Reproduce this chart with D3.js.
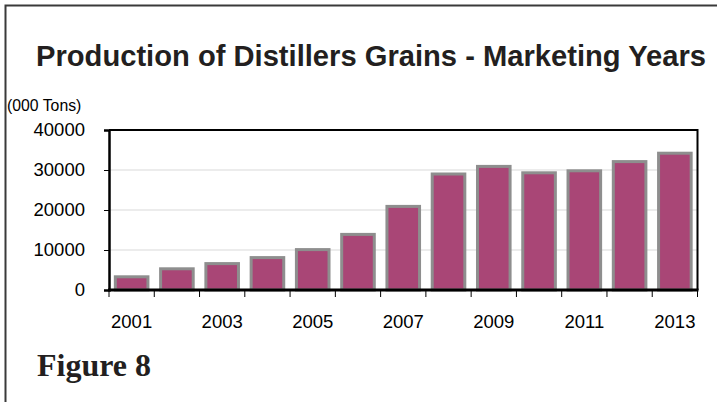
<!DOCTYPE html>
<html>
<head>
<meta charset="utf-8">
<script src="https://cdn.jsdelivr.net/npm/d3@7"></script>
<style>
  html, body { margin: 0; padding: 0; background: #fff; }
  svg { display: block; }
</style>
</head>
<body>
<svg id="chart" width="717" height="402"></svg>
<script>
// Marketing years and distillers grains production (thousand tons)
const years = ["2001","2002","2003","2004","2005","2006","2007","2008","2009","2010","2011","2012","2013"];
const production = [3300, 5300, 6600, 8100, 10100, 13900, 20900, 29000, 30900, 29300, 29800, 32100, 34200];
const yTicks = [0, 10000, 20000, 30000, 40000];
const xLabels = ["2001","2003","2005","2007","2009","2011","2013"];

const svg = d3.select("#chart");
const W = 717, H = 402;
const plot = { left: 109, right: 697.5, top: 130, bottom: 290 };
const sans = "Liberation Sans, Arial, sans-serif";

// outer frame (top and left edges)
svg.append("path")
  .attr("d", `M5.5,${H} L5.5,5.5 L${W},5.5`)
  .attr("fill", "none").attr("stroke", "#3a3a3a").attr("stroke-width", 2);

// title
svg.append("text")
  .attr("x", 36).attr("y", 66)
  .attr("font-family", "Liberation Sans Narrow, Liberation Sans, Arial, sans-serif")
  .attr("font-weight", "bold").attr("font-size", 29)
  .attr("fill", "#231f20")
  .attr("textLength", 670).attr("lengthAdjust", "spacingAndGlyphs")
  .text("Production of Distillers Grains - Marketing Years");

// units label
svg.append("text")
  .attr("x", 7).attr("y", 111)
  .attr("font-family", sans)
  .attr("font-size", 15.8).attr("fill", "#000")
  .text("(000 Tons)");

const x = d3.scaleBand().domain(years).range([plot.left, plot.right]).paddingInner(0.28).paddingOuter(0.14);
const y = d3.scaleLinear().domain([0, 40000]).range([plot.bottom, plot.top]);

// horizontal gridlines
svg.append("g").selectAll("line").data(yTicks.filter(t => t > 0 && t < 40000)).join("line")
  .attr("x1", plot.left).attr("x2", plot.right)
  .attr("y1", d => y(d)).attr("y2", d => y(d))
  .attr("stroke", "#d9d9d9").attr("stroke-width", 1.2);

// plot frame: top and right edges
svg.append("path")
  .attr("d", `M${plot.left},${plot.top} L${plot.right},${plot.top} L${plot.right},${plot.bottom}`)
  .attr("fill", "none").attr("stroke", "#000").attr("stroke-width", 2);

// bars
svg.append("g").selectAll("rect").data(production).join("rect")
  .attr("x", (d, i) => x(years[i]))
  .attr("width", x.bandwidth())
  .attr("y", d => y(d))
  .attr("height", d => plot.bottom - y(d))
  .attr("fill", "#a94676")
  .attr("stroke", "#8e8e8e").attr("stroke-width", 3);

// y axis
const yAxis = d3.axisLeft(y).tickValues(yTicks).tickSize(5).tickPadding(19).tickFormat(d3.format("d"));
const gy = svg.append("g").attr("transform", `translate(${plot.left},0)`).call(yAxis);
gy.select(".domain").attr("stroke", "#000").attr("stroke-width", 2.5);
gy.selectAll(".tick line").attr("stroke", "#000").attr("stroke-width", 1);
gy.selectAll("text").attr("font-family", sans).attr("font-size", 18.5).attr("fill", "#000");

// x axis: tick marks at category boundaries, labels on alternate years
const boundaries = d3.range(years.length + 1).map(i => plot.left + i * (plot.right - plot.left) / years.length);
const gx = svg.append("g");
gx.selectAll("line.tk").data(boundaries).join("line").attr("class", "tk")
  .attr("x1", d => d).attr("x2", d => d)
  .attr("y1", plot.bottom).attr("y2", plot.bottom + 7)
  .attr("stroke", "#000").attr("stroke-width", 1);
gx.append("line")
  .attr("x1", plot.left - 1).attr("x2", plot.right + 1)
  .attr("y1", plot.bottom).attr("y2", plot.bottom)
  .attr("stroke", "#000").attr("stroke-width", 3);
gx.selectAll("text").data(xLabels).join("text")
  .attr("x", d => x(d) + x.bandwidth() / 2)
  .attr("y", 328)
  .attr("text-anchor", "middle")
  .attr("font-family", sans)
  .attr("font-size", 18.5).attr("fill", "#000")
  .text(d => d);

// figure caption
svg.append("text")
  .attr("x", 37).attr("y", 376)
  .attr("font-family", "Liberation Serif, Georgia, serif")
  .attr("font-weight", "bold").attr("font-size", 32)
  .attr("fill", "#231f20")
  .text("Figure 8");
</script>
</body>
</html>
